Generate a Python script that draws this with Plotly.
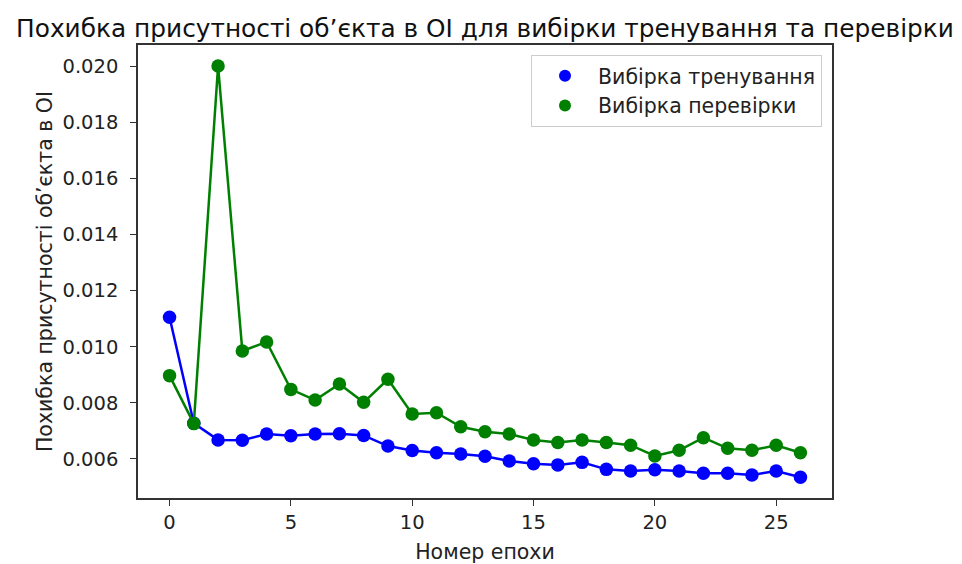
import plotly.graph_objects as go

epochs = list(range(27))
train_loss = [0.01105, 0.00727, 0.00668, 0.00667, 0.00689, 0.00683, 0.00689, 0.00690, 0.00684,
              0.00646, 0.00630, 0.00622, 0.00618, 0.00610, 0.00593, 0.00583, 0.00579, 0.00588,
              0.00563, 0.00557, 0.00562, 0.00557, 0.00549, 0.00549, 0.00543, 0.00557, 0.00535]
val_loss = [0.00897, 0.00726, 0.02000, 0.00985, 0.01017, 0.00848, 0.00810, 0.00867, 0.00802,
            0.00884, 0.00760, 0.00765, 0.00715, 0.00697, 0.00689, 0.00668, 0.00659, 0.00668,
            0.00659, 0.00649, 0.00611, 0.00631, 0.00676, 0.00638, 0.00631, 0.00649, 0.00622]
y_ticks = [0.006, 0.008, 0.010, 0.012, 0.014, 0.016, 0.018, 0.020]
x_ticks = [0, 5, 10, 15, 20, 25]

title = "Похибка присутності об’єкта в ОІ для вибірки тренування та перевірки"
font = "DejaVu Sans"

fig = go.Figure()
fig.add_trace(go.Scatter(x=epochs, y=train_loss, mode="lines", line=dict(color="blue", width=2.5),
                         showlegend=False, hoverinfo="skip"))
fig.add_trace(go.Scatter(x=epochs, y=train_loss, mode="markers", marker=dict(color="blue", size=13.5),
                         name="Вибірка тренування", legendgroup="a"))
fig.add_trace(go.Scatter(x=epochs, y=val_loss, mode="lines", line=dict(color="green", width=2.5),
                         showlegend=False, hoverinfo="skip"))
fig.add_trace(go.Scatter(x=epochs, y=val_loss, mode="markers", marker=dict(color="green", size=13.5),
                         name="Вибірка перевірки", legendgroup="b"))

axis_common = dict(showline=True, linecolor="#333", linewidth=1.5, mirror=True,
                   ticks="outside", ticklen=6, tickwidth=1.2, tickcolor="#333",
                   showgrid=False, zeroline=False, automargin=False,
                   tickfont=dict(family=font, size=19.5, color="#222"))

fig.update_layout(
    width=954, height=556,
    margin=dict(l=130, r=130, t=37, b=66),
    paper_bgcolor="white", plot_bgcolor="white",
    title=dict(text=title, x=0.5, xanchor="center", y=0.964, yanchor="middle",
               font=dict(family=font, size=24.8, color="#111")),
    xaxis=dict(range=[-1.3, 27.3], tickvals=x_ticks,
               title=dict(text="Номер епохи", font=dict(family=font, size=20.5, color="#222"), standoff=11),
               **axis_common),
    yaxis=dict(range=[0.00461, 0.02075], tickvals=y_ticks, tickformat=".3f", ticklabelstandoff=8,
               title=dict(text="Похибка присутності об’єкта в ОІ", font=dict(family=font, size=20.5, color="#222"), standoff=4),
               **axis_common),
    legend=dict(x=0.9856, y=0.978, xanchor="right", yanchor="top",
                bgcolor="white", bordercolor="#ccc", borderwidth=1,
                font=dict(family=font, size=20.5, color="#222"),
                itemsizing="constant", itemwidth=56, tracegroupgap=0),
    showlegend=True,
)

fig.write_html("out.html")
